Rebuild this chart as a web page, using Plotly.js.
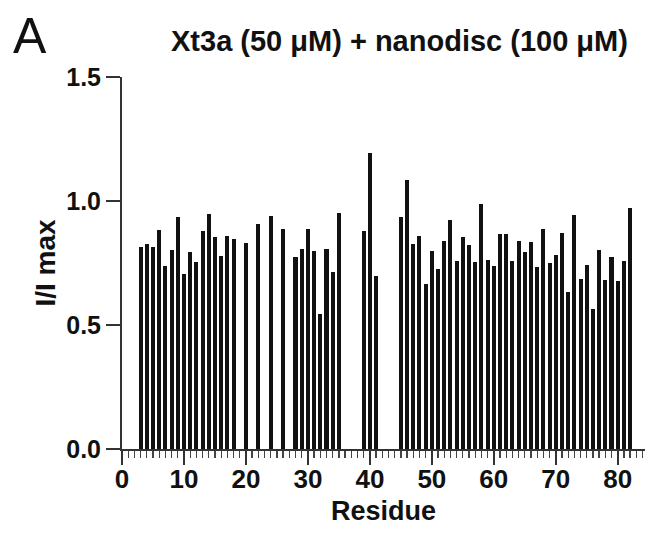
<!DOCTYPE html>
<html>
<head>
<meta charset="utf-8">
<script src="https://cdn.plot.ly/plotly-3.0.1.min.js"></script>
<style>html,body{margin:0;padding:0;background:#fff;}#chart{width:649px;height:542px;}</style>
</head>
<body>
<div id="chart"></div>
<script>
const residues = [3,4,5,6,7,8,9,10,11,12,13,14,15,16,17,18,20,22,24,26,28,29,30,31,32,33,34,35,39,40,41,45,46,47,48,49,50,51,52,53,54,55,56,57,58,59,60,61,62,63,64,65,66,67,68,69,70,71,72,73,74,75,76,77,78,79,80,81,82];
const intensity = [0.813,0.828,0.813,0.882,0.738,0.801,0.937,0.707,0.796,0.754,0.878,0.948,0.856,0.780,0.859,0.848,0.831,0.906,0.940,0.886,0.773,0.805,0.887,0.798,0.544,0.806,0.712,0.952,0.879,1.194,0.699,0.934,1.083,0.827,0.858,0.667,0.800,0.724,0.840,0.923,0.759,0.856,0.821,0.753,0.989,0.762,0.737,0.868,0.868,0.759,0.839,0.793,0.835,0.733,0.888,0.751,0.784,0.870,0.632,0.942,0.685,0.741,0.565,0.802,0.683,0.776,0.679,0.759,0.970];
const xTicks = [0,10,20,30,40,50,60,70,80];
const yTicks = [0,0.5,1.0,1.5];
const titleText = 'Xt3a (50 μM) + nanodisc (100 μM)';
const panelLabel = 'A';

const fam = '"Liberation Sans", Arial, sans-serif';
const axCol = '#333';
const trace = {
  type: 'bar', x: residues, y: intensity, width: 0.66,
  marker: {color: '#111', line: {width: 0}},
  hoverinfo: 'x+y'
};
const layout = {
  width: 649, height: 542,
  margin: {l: 122, r: 4, t: 77, b: 93},
  paper_bgcolor: '#fff', plot_bgcolor: '#fff',
  showlegend: false,
  bargap: 0,
  font: {family: fam, color: '#111'},
  xaxis: {
    range: [0, 84.4], tickvals: xTicks, ticktext: xTicks.map(String),
    ticks: 'outside', ticklen: 14, tickwidth: 2, tickcolor: axCol,
    showline: true, linewidth: 2, linecolor: axCol,
    showgrid: false, zeroline: false,
    ticklabelstandoff: -8,
    minor: {dtick: 1, tick0: 0, ticks: 'outside', ticklen: 7, tickwidth: 1.3, tickcolor: '#444', showgrid: false},
    tickfont: {size: 26, family: fam, weight: 'bold'},
    title: {text: '<b>Residue</b>', font: {size: 27, family: fam}, standoff: 8}
  },
  yaxis: {
    range: [0, 1.5], tickvals: yTicks, ticktext: yTicks.map(v => v.toFixed(1)),
    ticks: 'outside', ticklen: 14, tickwidth: 2, tickcolor: axCol,
    showline: true, linewidth: 2, linecolor: axCol,
    showgrid: false, zeroline: false,
    tickfont: {size: 25, family: fam, weight: 'bold'},
    title: {text: '<b>I/I max</b>', font: {size: 28, family: fam}, standoff: 2}
  },
  annotations: [
    {text: '<b>' + titleText + '</b>', xref: 'paper', yref: 'paper', x: 0.530, y: 1.0, yshift: 36, xanchor: 'center', yanchor: 'middle', showarrow: false, font: {size: 29, family: fam}},
    {text: panelLabel, xref: 'paper', yref: 'paper', x: -0.212, y: 1.0, yshift: 41, xanchor: 'left', yanchor: 'middle', showarrow: false, font: {size: 50, family: fam}}
  ]
};
Plotly.newPlot('chart', [trace], layout, {displayModeBar: false, staticPlot: true});
</script>
</body>
</html>
